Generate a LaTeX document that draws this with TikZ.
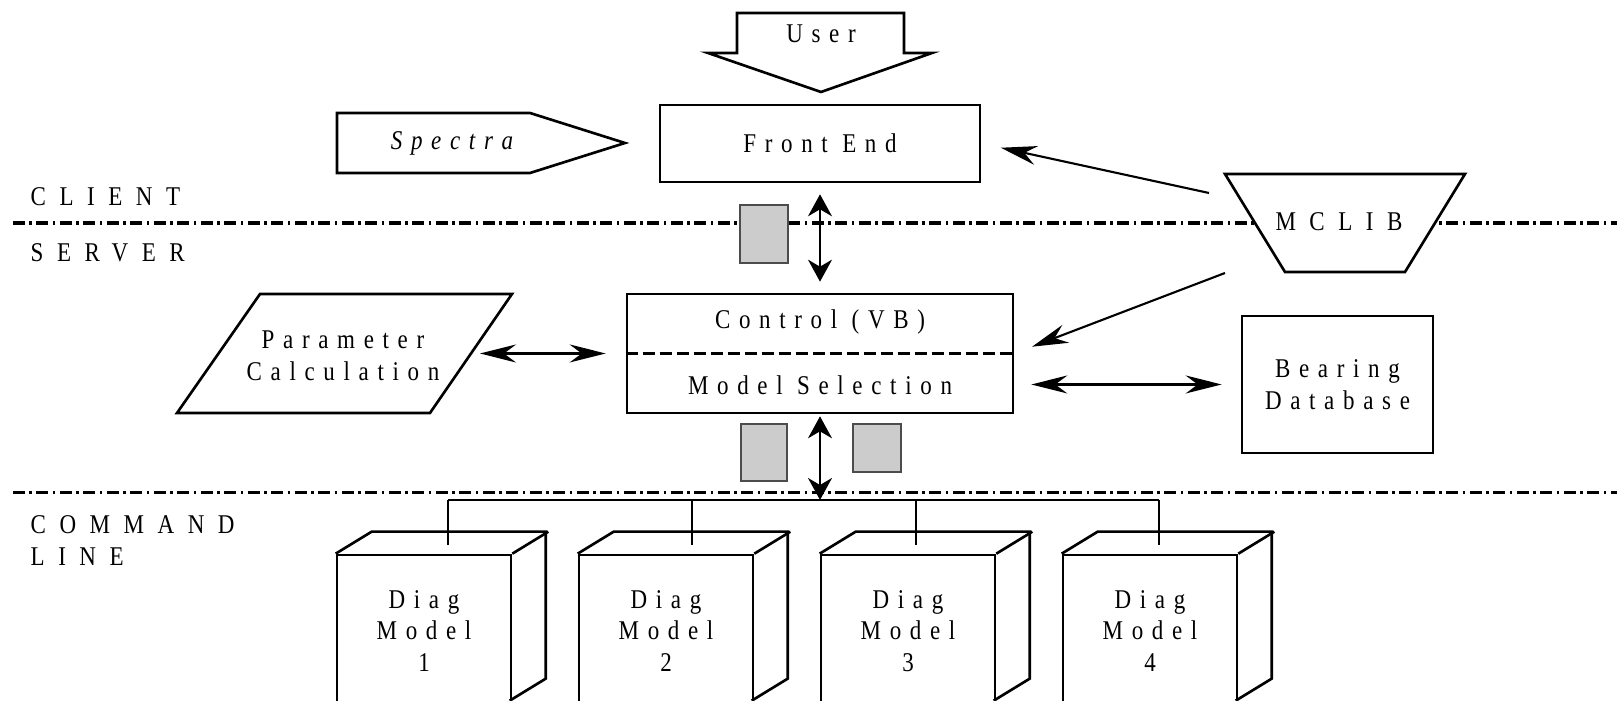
\documentclass[tikz,border=0pt]{standalone}
\usepackage{fontspec}
\setmainfont{Liberation Serif}[FakeStretch=0.85,LetterSpace=32]
\newfontfamily\lblfont{Liberation Serif}[FakeStretch=0.85,LetterSpace=50]
\usetikzlibrary{arrows.meta, positioning, calc}
\definecolor{pkt_col}{RGB}{204,204,204}
\newcommand{\dfont}{\fontsize{7.7}{9}\selectfont}

\begin{document}
\begin{tikzpicture}[
    x=0.1mm, y=0.1mm,
    every node/.style={font=\dfont, inner sep=0pt},
    bx/.style={draw, line width=0.75pt, fill=white},
    cube/.style={bx, minimum width=17.4mm, minimum height=15.2mm, align=center},
    zone/.style={line width=1.1pt, dash pattern=on 1.2mm off 0.45mm on 0.25mm off 0.45mm},
    lbl/.style={font=\dfont\lblfont, anchor=west, align=left},
    pkt/.style={draw=black!70, line width=0.6pt, fill=pkt_col},
    harr/.style={line width=0.6pt, {Stealth[length=3.6mm,width=1.8mm,inset=1.2mm]}-{Stealth[length=3.6mm,width=1.8mm,inset=1.2mm]}},
    varr/.style={line width=0.6pt, {Stealth[length=2.2mm,width=2.4mm,inset=0.7mm]}-{Stealth[length=2.2mm,width=2.4mm,inset=0.7mm]}},
    sarr/.style={line width=0.6pt, -{Stealth[length=3.6mm,width=1.9mm,inset=1.2mm]}},
]
  \useasboundingbox (0,0) rectangle (1617,701);
  \clip (0,0) rectangle (1617,701);

  % tier lines
  \draw[zone] (13,478) -- (1617,478);
  \draw[zone] (13,208.5) -- (1617,208.5);
  \node[lbl] (client) at (30,504) {CLIENT};
  \node[lbl] (server) at (30,448) {SERVER};
  \node[lbl] (cmdline) at (30,160.5) {COMMAND\\LINE};

  % client side
  \draw[bx] (737,688) -- (904,688) -- (904,648) -- (932,648) -- (821,609) -- (708,648) -- (737,648) -- cycle;
  \node (user) at (821,667) {User};
  \draw[bx] (337,588) -- (530,588) -- (625,558) -- (530,528) -- (337,528) -- cycle;
  \node (spectra) at (452,558) {\itshape Spectra};
  \node[bx, minimum width=32mm, minimum height=7.7mm] (fe) at (820,557.5) {Front End};

  \draw[bx] (1225,527) -- (1465,527) -- (1405,429) -- (1285,429) -- cycle;
  \node[font=\dfont\lblfont] (mclib) at (1339,479) {MCLIB};

  % server side
  \node[bx, minimum width=38.6mm, minimum height=11.9mm] (ctl) at (820,347.5) {};
  \draw[line width=1pt, dash pattern=on 1.2mm off 0.5mm] (ctl.west) -- (ctl.east);
  \node (ctltop) at (820,379) {Control (VB)};
  \node (ctlbot) at (820,316) {Model Selection};

  \draw[bx] (260,407) -- (512,407) -- (430,288) -- (177,288) -- cycle;
  \node[align=center] (param) at (343,345.5) {Parameter\\Calculation};
  \coordinate (parR) at (471,347.5);

  \node[bx, minimum width=19.1mm, minimum height=13.7mm, align=center] (bdb) at (1337.5,316.5) {Bearing\\Database};

  \node[pkt, minimum width=4.8mm, minimum height=5.8mm] (p1) at (764,467) {};
  \node[pkt, minimum width=4.6mm, minimum height=5.7mm] (p2) at (764,248.5) {};
  \node[pkt, minimum width=4.8mm, minimum height=4.8mm] (p3) at (877,253) {};

  % connectors
  \coordinate (bus) at (820,201);
  \coordinate (mcA) at (1209,508);
  \coordinate (mcB) at (1225,428);
  \draw[varr, shorten <=1.1mm, shorten >=1.1mm] (fe.south) -- (ctl.north);
  \draw[varr, shorten <=0.2mm] (ctl.south) -- (bus);
  \draw[harr, shorten <=0.9mm, shorten >=2mm] (parR) -- (ctl.west);
  \draw[harr, shorten <=1.7mm, shorten >=1.9mm] (ctl.east |- bdb.west) -- (bdb.west);
  \draw[sarr, shorten >=2mm] (mcA) -- (fe.east);
  \draw[sarr, shorten >=1.9mm] (mcB) -- (ctl.east);

  % command line models
  \foreach \i/\x/\t in {1/424/448, 2/666/692, 3/908/916, 4/1150/1159} {
    \node[cube] (d\i) at (\x,70) {Diag\\Model\\\i};
    \draw[line width=0.75pt] (d\i.north west) -- ++(36,22) -- ++(174,0) -- ++(0,-147) -- ++(-36,-22);
    \draw[line width=0.75pt] (d\i.north east) -- ++(36,22);
    \coordinate (t\i) at (\t,156);
    \draw[line width=0.6pt] (t\i |- bus) -- (t\i);
  }
  \draw[line width=0.6pt] (t1 |- bus) -- (t4 |- bus);
\end{tikzpicture}
\end{document}
